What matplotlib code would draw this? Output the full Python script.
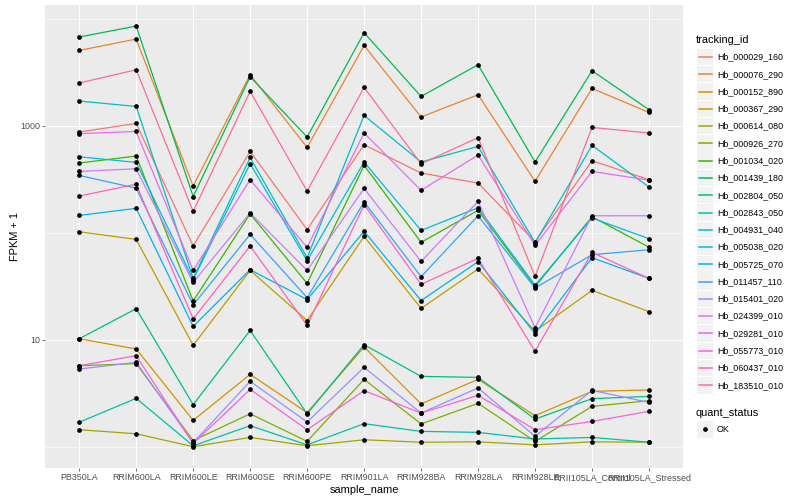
import numpy as np
import matplotlib.pyplot as plt
from matplotlib.patches import Rectangle
from matplotlib.lines import Line2D
from matplotlib.ticker import FixedLocator, NullFormatter, FuncFormatter

plt.rcParams['font.family'] = ['Liberation Sans', 'DejaVu Sans']

# Samples on the x axis.
samples = ['PB350LA', 'RRIM600LA', 'RRIM600LE', 'RRIM600SE', 'RRIM600PE', 'RRIM901LA',
           'RRIM928BA', 'RRIM928LA', 'RRIM928LE', 'RRII105LA_Control', 'RRII105LA_Stressed']

tracking_ids = ['Hb_000029_160', 'Hb_000076_290', 'Hb_000152_890', 'Hb_000367_290',
                'Hb_000614_080', 'Hb_000926_270', 'Hb_001034_020', 'Hb_001439_180',
                'Hb_002804_050', 'Hb_002843_050', 'Hb_004931_040', 'Hb_005038_020',
                'Hb_005725_070', 'Hb_011457_110', 'Hb_015401_020', 'Hb_024399_010',
                'Hb_029281_010', 'Hb_055773_010', 'Hb_060437_010', 'Hb_183510_010']

# FPKM + 1 for each gene, one value per sample.
hb_000029_160 = [873, 1051, 75.1, 575, 107, 664, 361, 291, 82.4, 471, 313]
hb_000076_290 = [5058, 6460, 273, 2998, 627, 5628, 1206, 1949, 302, 2233, 1331]
hb_000152_890 = [10.2, 8.19, 1.76, 4.74, 2.08, 8.55, 2.51, 4.26, 1.95, 3.29, 3.39]
hb_000367_290 = [102, 86.6, 8.85, 44.4, 15.1, 92.3, 19.6, 45.8, 12.0, 28.9, 18.3]
hb_000614_080 = [1.44, 1.32, 1.0, 1.22, 1.02, 1.16, 1.10, 1.11, 1.04, 1.11, 1.10]
hb_000926_270 = [5.71, 5.97, 1.14, 2.03, 1.12, 4.26, 1.63, 2.54, 1.12, 2.38, 2.69]
hb_001034_020 = [448, 521, 23.0, 150, 33.6, 426, 81.2, 162, 31.3, 141, 73.2]
hb_001439_180 = [6745, 8550, 218, 2870, 784, 7400, 1879, 3717, 458, 3266, 1412]
hb_002804_050 = [10.2, 19.5, 2.47, 12.2, 2.03, 8.98, 4.54, 4.44, 1.81, 2.81, 2.95]
hb_002843_050 = [1.69, 2.83, 1.02, 1.57, 1.04, 1.64, 1.39, 1.36, 1.18, 1.22, 1.10]
hb_004931_040 = [1702, 1514, 37.4, 505, 58.4, 1248, 458, 641, 80.7, 655, 267]
hb_005038_020 = [513, 454, 36.4, 441, 54.7, 458, 105, 171, 32.3, 137, 87.9]
hb_005725_070 = [145, 169, 13.3, 45.1, 23.7, 103, 23.2, 53.6, 11.4, 58.4, 37.4]
hb_011457_110 = [343, 261, 21.1, 96.4, 24.7, 194, 38.8, 144, 30.4, 62.3, 69.3]
hb_015401_020 = [5.32, 6.14, 1.09, 4.08, 1.70, 5.51, 2.06, 3.54, 1.25, 3.36, 2.59]
hb_024399_010 = [374, 396, 34.3, 153, 44.4, 259, 53.9, 196, 12.9, 144, 144]
hb_029281_010 = [842, 885, 44.4, 313, 72.9, 855, 249, 532, 76.1, 374, 310]
hb_055773_010 = [5.71, 7.09, 1.07, 3.43, 1.44, 3.34, 2.06, 3.02, 1.44, 1.72, 2.14]
hb_060437_010 = [220, 284, 15.6, 75.1, 13.6, 183, 32.9, 57.5, 7.8, 65.4, 37.4]
hb_183510_010 = [2506, 3336, 158, 2093, 245, 2280, 441, 773, 39.0, 964, 855]

series = [hb_000029_160, hb_000076_290, hb_000152_890, hb_000367_290, hb_000614_080,
          hb_000926_270, hb_001034_020, hb_001439_180, hb_002804_050, hb_002843_050,
          hb_004931_040, hb_005038_020, hb_005725_070, hb_011457_110, hb_015401_020,
          hb_024399_010, hb_029281_010, hb_055773_010, hb_060437_010, hb_183510_010]

# ggplot2 default hue palette for 20 levels.
colors = ['#F8766D', '#EA8331', '#D89000', '#C09B00', '#A3A500', '#7CAE00', '#39B600',
          '#00BB4E', '#00BF7D', '#00C1A3', '#00BFC4', '#00BAE0', '#00B0F6', '#35A2FF',
          '#9590FF', '#C77CFF', '#E76BF3', '#FA62DB', '#FF62BC', '#FF6C91']

W, H = 800, 500
fig = plt.figure(figsize=(8, 5), dpi=100)
px_left, px_right, px_top, px_bottom = 45, 683.2, 5, 467.7
ax = fig.add_axes([px_left / W, 1 - px_bottom / H, (px_right - px_left) / W, (px_bottom - px_top) / H])
ax.set_facecolor('#EBEBEB')

x = np.arange(len(samples))
for vals, col in zip(series, colors):
    ax.plot(x, vals, color=col, lw=0.9, zorder=2)
for vals in series:
    ax.plot(x, vals, ls='none', marker='o', ms=2.4, color='black', zorder=3)

ax.set_yscale('log')
allv = np.log10(np.concatenate([np.array(s, dtype=float) for s in series]))
span = allv.max() - allv.min()
ax.set_ylim(10 ** (allv.min() - 0.05 * span), 10 ** (allv.max() + 0.05 * span))
ax.set_xlim(-0.6, len(samples) - 0.4)

ax.yaxis.set_major_locator(FixedLocator([10, 1000]))
ax.yaxis.set_major_formatter(FuncFormatter(lambda v, p: '%d' % v))
ax.yaxis.set_minor_locator(FixedLocator([1, 100, 10000]))
ax.yaxis.set_minor_formatter(NullFormatter())
ax.set_xticks(x)
ax.set_xticklabels(samples)

ax.grid(True, which='major', color='white', lw=0.8, zorder=0)
ax.grid(True, which='minor', axis='y', color='white', lw=0.4, zorder=0)
ax.set_axisbelow(True)
for s in ax.spines.values():
    s.set_visible(False)
ax.tick_params(which='major', length=2.2, width=0.5, color='#333333', labelsize=6.4,
               labelcolor='#4D4D4D', pad=1.5)
ax.tick_params(which='minor', length=0)

ax.set_xlabel('sample_name', fontsize=7.9, labelpad=2)
ax.set_ylabel('FPKM + 1', fontsize=7.9, labelpad=0)


# Legend drawn in pixel coordinates (from top-left).
def fx(px):
    return px / W


def fy(py):
    return 1 - py / H


fig.text(fx(696), fy(40), 'tracking_id', fontsize=7.9, va='center', ha='left')
row = 17.28
for i, (name, col) in enumerate(zip(tracking_ids, colors)):
    cy = 57 + row * i
    fig.patches.append(Rectangle((fx(697), fy(cy + 8.2)), 16 / W, 16.4 / H,
                                 transform=fig.transFigure, color='#F2F2F2', lw=0))
    fig.lines.append(Line2D([fx(698.5), fx(712)], [fy(cy), fy(cy)], transform=fig.transFigure,
                            color=col, lw=1.1))
    fig.text(fx(717), fy(cy), name, fontsize=6.4, va='center', ha='left')

fig.text(fx(696), fy(412.5), 'quant_status', fontsize=7.9, va='center', ha='left')
fig.patches.append(Rectangle((fx(697), fy(437.5)), 16 / W, 16.4 / H,
                             transform=fig.transFigure, color='#F2F2F2', lw=0))
fig.lines.append(Line2D([fx(705)], [fy(429.3)], transform=fig.transFigure, ls='none',
                        marker='o', ms=2.4, color='black'))
fig.text(fx(717), fy(429.3), 'OK', fontsize=6.4, va='center', ha='left')

fig.savefig('out.png', dpi=100)
